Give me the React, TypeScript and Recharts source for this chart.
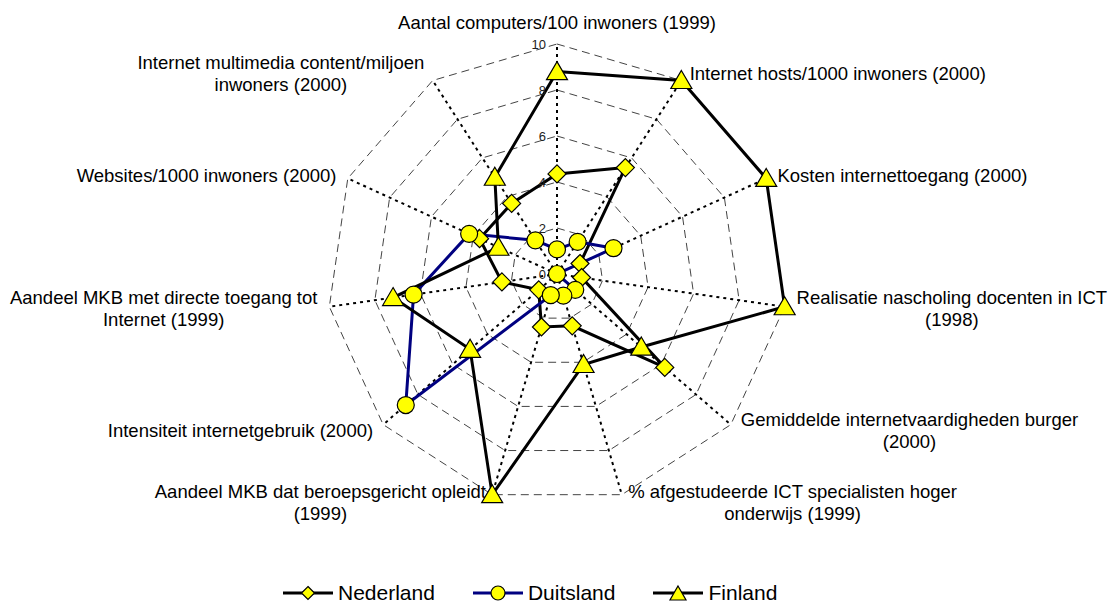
import React from 'react';
import { RadarChart, Radar, PolarGrid, PolarAngleAxis, PolarRadiusAxis, Legend } from 'recharts';

const categories = [
  'Aantal computers/100 inwoners (1999)',
  'Internet hosts/1000 inwoners (2000)',
  'Kosten internettoegang (2000)',
  'Realisatie nascholing docenten in ICT\n(1998)',
  'Gemiddelde internetvaardigheden burger\n(2000)',
  '% afgestudeerde ICT specialisten hoger\nonderwijs (1999)',
  'Aandeel MKB dat beroepsgericht opleidt\n(1999)',
  'Intensiteit internetgebruik (2000)',
  'Aandeel MKB met directe toegang tot\nInternet (1999)',
  'Websites/1000 inwoners (2000)',
  'Internet multimedia content/miljoen\ninwoners (2000)',
];

const nederland = [4.35, 5.5, 1.1, 1.08, 6.2, 2.35, 2.4, 1.05, 2.42, 3.7, 3.65];
const duitsland = [1.07, 1.66, 2.7, 0, 1.05, 0.98, 0.96, 8.7, 6.3, 4.2, 1.74];
const finland = [8.8, 10, 10, 10, 4.85, 4.1, 10, 5.0, 7.2, 2.8, 5.0];

const radiusTicks = [0, 2, 4, 6, 8, 10];
const seriesNames = ['Nederland', 'Duitsland', 'Finland'];

const data = categories.map((c, i) => ({
  category: c,
  [seriesNames[0]]: nederland[i],
  [seriesNames[1]]: duitsland[i],
  [seriesNames[2]]: finland[i],
}));

const W = 1110;
const H = 607;
const CX = 557;
const CY = 274;
const R = 230;
const FONT = '"Liberation Sans", Arial, sans-serif';
const LABEL_SIZE = 18.5;
const LH = 22;
const YELLOW = '#FFFF00';
const NAVY = '#000080';

let ctx: CanvasRenderingContext2D | null = null;
function measure(text: string, size: number): number {
  if (!ctx) {
    const c = document.createElement('canvas');
    ctx = c.getContext('2d');
  }
  if (!ctx) return text.length * size * 0.5;
  ctx.font = `${size}px ${FONT}`;
  return ctx.measureText(text).width;
}

const diamondPath = (cx: number, cy: number, s: number) =>
  `M${cx},${cy - s}L${cx + s},${cy}L${cx},${cy + s}L${cx - s},${cy}Z`;
const trianglePath = (cx: number, cy: number, w: number, h: number) =>
  `M${cx},${cy - h / 2 - 1}L${cx + w / 2},${cy + h / 2 - 1}L${cx - w / 2},${cy + h / 2 - 1}Z`;

const DiamondDot = (p: any) => {
  if (p.cx == null || p.cy == null) return <g />;
  return <path d={diamondPath(p.cx, p.cy, 9)} fill={YELLOW} stroke="#000" strokeWidth={1.2} />;
};
const CircleDot = (p: any) => {
  if (p.cx == null || p.cy == null) return <g />;
  return <circle cx={p.cx} cy={p.cy} r={8.5} fill={YELLOW} stroke="#000" strokeWidth={1.2} />;
};
const TriangleDot = (p: any) => {
  if (p.cx == null || p.cy == null) return <g />;
  return <path d={trianglePath(p.cx, p.cy, 21, 18)} fill={YELLOW} stroke="#000" strokeWidth={1.2} />;
};

const AngleTick = (props: any) => {
  const { x, y, payload } = props;
  const lines = String(payload.value).split('\n');
  const dx = x - CX;
  const dy = y - CY;
  const d = Math.hypot(dx, dy) || 1;
  const ux = dx / d;
  const w = Math.max(...lines.map((l) => measure(l, LABEL_SIZE)));
  let centerX = x;
  let centerY = y;
  if (Math.abs(ux) < 0.1) {
    centerX = x;
    centerY = y - 14 - ((lines.length - 1) * LH) / 2;
  } else if (ux > 0) {
    centerX = x + 4 + w / 2;
  } else {
    centerX = x - 4 - w / 2;
  }
  const firstY = centerY - ((lines.length - 1) * LH) / 2;
  return (
    <text textAnchor="middle" fontSize={LABEL_SIZE} fontFamily={FONT} fill="#000">
      {lines.map((l, i) => (
        <tspan key={i} x={centerX} y={firstY + i * LH} dy="0.36em">
          {l}
        </tspan>
      ))}
    </text>
  );
};

const RadiusTick = (props: any) => {
  const { x, y, payload } = props;
  return (
    <text x={x - 11} y={y} dy="0.36em" textAnchor="end" fontSize={13} fontFamily={FONT} fill="#222">
      {payload.value}
    </text>
  );
};

const legendShapes = ['diamond', 'circle', 'triangle'];
const legendColors = ['#000', NAVY, '#000'];

const LegendContent = () => (
  <div
    style={{
      display: 'flex',
      alignItems: 'center',
      paddingLeft: 283,
      height: 28,
      fontFamily: FONT,
      fontSize: 21,
      color: '#000',
    }}
  >
    {seriesNames.map((name, i) => (
      <div key={name} style={{ display: 'flex', alignItems: 'center', marginRight: 38 }}>
        <svg width={50} height={24} style={{ display: 'block' }}>
          <line x1={0} y1={12} x2={50} y2={12} stroke={legendColors[i]} strokeWidth={3} />
          {legendShapes[i] === 'diamond' && (
            <path d={diamondPath(25, 12, 6.5)} fill={YELLOW} stroke="#000" strokeWidth={1.2} />
          )}
          {legendShapes[i] === 'circle' && <circle cx={25} cy={12} r={7} fill={YELLOW} stroke="#000" strokeWidth={1.2} />}
          {legendShapes[i] === 'triangle' && (
            <path d={trianglePath(25, 13, 16, 14)} fill={YELLOW} stroke="#000" strokeWidth={1.2} />
          )}
        </svg>
        <span style={{ marginLeft: 5, lineHeight: '24px' }}>{name}</span>
      </div>
    ))}
  </div>
);

export default function App() {
  return (
    <div style={{ position: 'absolute', left: 0, top: 0, width: W, height: H, background: '#fff' }}>
      <RadarChart
        width={W}
        height={H}
        data={data}
        cx={CX}
        cy={CY}
        outerRadius={R}
        margin={{ top: 0, right: 0, bottom: 0, left: 0 }}
      >
        <PolarGrid gridType="polygon" radialLines={false} stroke="#444" strokeWidth={1} strokeDasharray="8 5" />
        <PolarGrid gridType="polygon" polarRadius={[]} radialLines stroke="#000" strokeWidth={2} strokeDasharray="3 4" />
        <PolarAngleAxis dataKey="category" tick={<AngleTick />} tickLine={false} axisLine={false} />
        <PolarRadiusAxis
          angle={90}
          domain={[radiusTicks[0], radiusTicks[radiusTicks.length - 1]]}
          tickCount={radiusTicks.length}
          tick={<RadiusTick />}
          axisLine={false}
          tickLine={false}
        />
        <Radar
          name={seriesNames[0]}
          dataKey={seriesNames[0]}
          stroke="#000"
          strokeWidth={3}
          fill="none"
          fillOpacity={0}
          dot={<DiamondDot />}
          isAnimationActive={false}
        />
        <Radar
          name={seriesNames[1]}
          dataKey={seriesNames[1]}
          stroke={NAVY}
          strokeWidth={3}
          fill="none"
          fillOpacity={0}
          dot={<CircleDot />}
          isAnimationActive={false}
        />
        <Radar
          name={seriesNames[2]}
          dataKey={seriesNames[2]}
          stroke="#000"
          strokeWidth={3}
          fill="none"
          fillOpacity={0}
          dot={<TriangleDot />}
          isAnimationActive={false}
        />
        <Legend
          content={<LegendContent />}
          wrapperStyle={{ top: 579, left: 0, bottom: 'auto', width: W, height: 28 }}
        />
      </RadarChart>
    </div>
  );
}
